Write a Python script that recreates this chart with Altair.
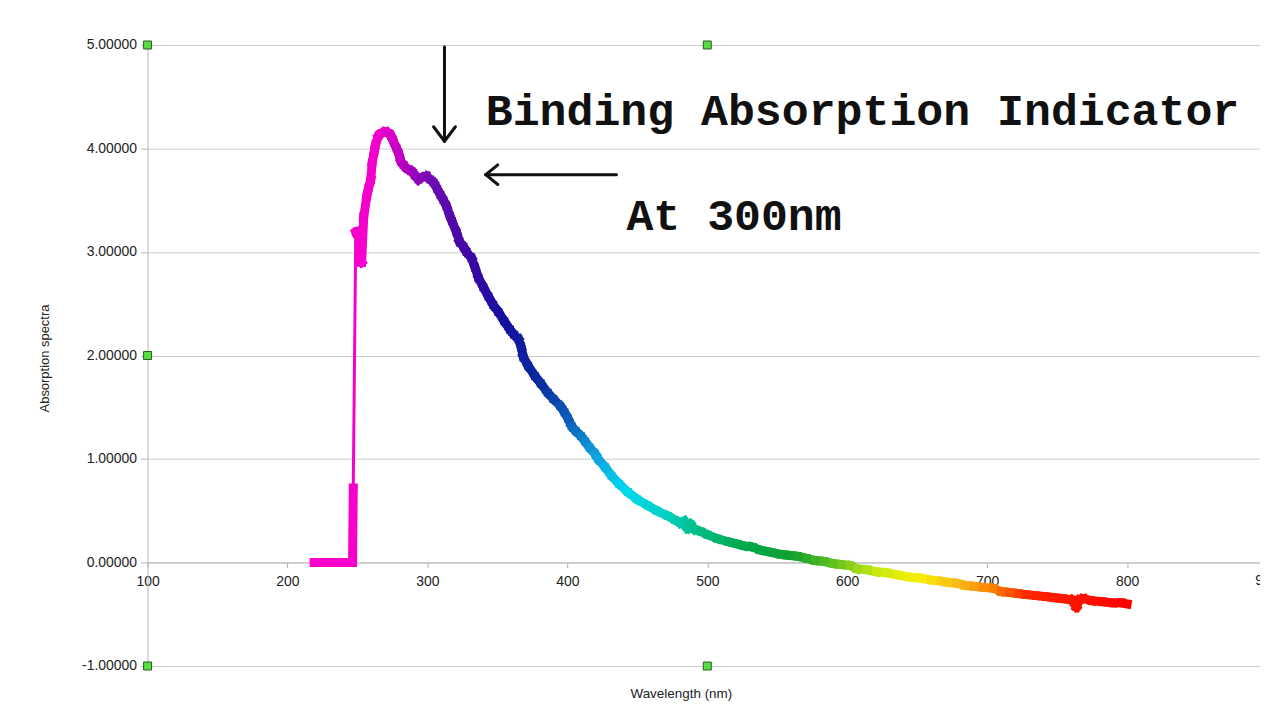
import altair as alt
import pandas as pd

# ---- spectrum ----
wavelength = [219, 228, 237, 246.5, 247, 248.8, 250.5, 251.8, 253, 254.5, 256.7, 258, 259.5, 260.5, 262,
              263, 265, 267.5, 270, 272, 274, 276, 278, 279.5, 281, 283, 286, 288.7, 291, 293.7, 296,
              299.4, 302, 304.4, 307, 309.4, 311.5, 313.7, 316, 317.5, 320.8, 323, 325.8, 328, 331.5,
              334, 336.5, 340, 343.6, 347, 350.7, 355, 359, 362, 365, 367, 368.5, 372, 377, 381, 386,
              390, 395, 398, 400.5, 403, 406, 409.8, 412.7, 416, 419.8, 422, 427, 431.5, 437, 443.3,
              450, 457.5, 464, 471.8, 477, 481, 483.5, 486, 488, 491, 495.3, 500, 507.4, 515, 521,
              526.6, 532, 538, 545, 552, 558, 564.4, 571, 577, 583.4, 590, 596, 602, 607, 614, 621,
              628.5, 636, 644, 652, 660, 667, 671, 678, 684, 690.5, 697, 704.5, 710, 716, 722, 728,
              735, 742, 748, 754.5, 760, 763.8, 766, 768.8, 775, 783, 790, 796, 800]
absorbance = [0.00, 0.00, 0.00, 0.00, 0.72, 3.19, 3.20, 2.92, 2.90, 3.34, 3.54, 3.62, 3.70, 3.86, 3.97,
              4.04, 4.12, 4.15, 4.16, 4.15, 4.12, 4.06, 4.00, 3.95, 3.88, 3.84, 3.80, 3.78, 3.74, 3.70, 3.72,
              3.73, 3.70, 3.67, 3.61, 3.55, 3.50, 3.44, 3.35, 3.30, 3.19, 3.10, 3.05, 3.00, 2.94,
              2.85, 2.75, 2.66, 2.57, 2.49, 2.42, 2.33, 2.25, 2.20, 2.16, 2.08, 1.99, 1.90, 1.80, 1.73, 1.64,
              1.58, 1.51, 1.45, 1.39, 1.32, 1.27, 1.22, 1.17, 1.11, 1.05, 1.00, 0.92, 0.84, 0.76, 0.68,
              0.61, 0.55, 0.50, 0.45, 0.41, 0.38, 0.40, 0.33, 0.37, 0.32, 0.30, 0.27, 0.23, 0.20, 0.18,
              0.16, 0.15, 0.12, 0.10, 0.08, 0.07, 0.06, 0.04, 0.02, 0.01, -0.01, -0.02, -0.03, -0.06, -0.07, -0.09,
              -0.10, -0.12, -0.14, -0.15, -0.17, -0.18, -0.19, -0.20, -0.22, -0.23, -0.24, -0.25, -0.28, -0.29, -0.30, -0.31,
              -0.32, -0.33, -0.34, -0.35, -0.36, -0.43, -0.36, -0.35, -0.37, -0.38, -0.39, -0.39, -0.40]

# colour of the trace along the wavelength
color_stops = [219, 268, 285, 305, 330, 355, 380, 400, 420, 440, 470, 500, 530, 560, 590, 620, 650, 680, 705, 730, 800]
color_values = ["#ff00cc", "#f000cc", "#b000c0", "#6a0cb0", "#3c08a4", "#1410a0", "#0a2c9c", "#0c5ab8",
                "#10a0dc", "#00d8f0", "#00d0c0", "#00b878", "#00a848", "#10a030", "#60c020", "#c8e810",
                "#f8f000", "#f8b818", "#ff7c00", "#ff2400", "#ff0000"]

x_ticks = [100, 200, 300, 400, 500, 600, 700, 800]
x_edge_label = ["900"]
x_edge_value = [900]
y_ticks = [-1, 0, 1, 2, 3, 4, 5]

# annotations
label_text = ["Binding Absorption Indicator", "At 300nm"]
label_x = [341.7, 442.2]
label_y = [4.228, 3.217]

arrow_x = [312.2, 304.4, 320.0, 341.7, 350.3, 350.3]
arrow_y = [4.98, 4.21, 4.21, 3.747, 3.842, 3.652]
arrow_x2 = [312.2, 312.2, 312.2, 435.1, 341.7, 341.7]
arrow_y2 = [4.07, 4.07, 4.07, 3.747, 3.747, 3.747]

handle_x = [100, 500, 900, 100, 900, 100, 500, 900]
handle_y = [5, 5, 5, 2, 2, -1, -1, -1]

# ---- tables ----
pts = pd.DataFrame({"wl": wavelength, "ab": absorbance})
seg = pts.assign(wl2=pts["wl"].shift(-1), ab2=pts["ab"].shift(-1)).dropna()
labels = pd.DataFrame({"t": label_text, "x": label_x, "y": label_y})
arrows = pd.DataFrame({"x": arrow_x, "y": arrow_y, "x2": arrow_x2, "y2": arrow_y2})
handles = pd.DataFrame({"x": handle_x, "y": handle_y})
edge = pd.DataFrame({"t": x_edge_label, "x": x_edge_value, "y": [0] * len(x_edge_value)})

W, H = 1116, 623
xs = alt.Scale(domain=[100, 895], nice=False, zero=False)
ys = alt.Scale(domain=[-1, 5], nice=False, zero=False)
cs = alt.Scale(domain=color_stops, range=color_values, interpolate="rgb")

FONT = "Liberation Sans"
TXT = "#222222"

x_axis = alt.Axis(values=x_ticks, grid=False, offset=-H / 6, format="d", labelFlush=False,
                  labelFont=FONT, labelFontSize=14, labelColor=TXT, labelPadding=7,
                  tickSize=5, tickColor="#b0b0b0", domainColor="#b8b8b8",
                  title="Wavelength (nm)", titleFont=FONT, titleFontSize=13.5, titleFontWeight="normal",
                  titleColor=TXT, titleX=535, titleY=131, titleBaseline="middle", titleAlign="center")
y_axis = alt.Axis(values=y_ticks, grid=True, gridColor="#cccccc", labelFlush=False,
                  labelExpr="replace(format(datum.value, '.5f'), '\u2212', '-')",
                  labelFont=FONT, labelFontSize=14, labelColor=TXT, labelPadding=4,
                  tickSize=7, tickColor="#b8b8b8", domainColor="#b8b8b8",
                  title="Absorption spectra", titleFont=FONT, titleFontSize=13, titleFontWeight="normal",
                  titleColor=TXT, titleX=-103, titleY=314, titleAngle=270,
                  titleBaseline="middle", titleAlign="center")


def X(f):
    return alt.X(f, scale=xs, axis=x_axis)


def Y(f):
    return alt.Y(f, scale=ys, axis=y_axis)


line = alt.Chart(seg).mark_rule(strokeCap="square").encode(
    x=X("wl:Q"),
    y=Y("ab:Q"),
    x2="wl2:Q",
    y2="ab2:Q",
    color=alt.Color("wl:Q", scale=cs, legend=None),
    strokeWidth=alt.condition("abs(datum.ab2 - datum.ab) > 1", alt.value(3), alt.value(9)),
)

marks = alt.Chart(pts).mark_square(size=64, opacity=1).encode(
    x=X("wl:Q"),
    y=Y("ab:Q"),
    color=alt.Color("wl:Q", scale=cs, legend=None),
)

arrow = alt.Chart(arrows).mark_rule(color="#111111", strokeWidth=3, strokeCap="round").encode(
    x=X("x:Q"),
    y=Y("y:Q"),
    x2="x2:Q",
    y2="y2:Q",
)

text = alt.Chart(labels).mark_text(align="left", baseline="alphabetic", font="Liberation Mono",
                                   fontSize=45, fontWeight="bold", color="#111111").encode(
    x=X("x:Q"),
    y=Y("y:Q"),
    text="t:N",
)

edge_label = alt.Chart(edge).mark_text(align="center", baseline="top", dy=12, font=FONT,
                                       fontSize=14, color=TXT).encode(
    x=X("x:Q"),
    y=Y("y:Q"),
    text="t:N",
)

handle = alt.Chart(handles).mark_square(size=64, filled=True, fill="#55dd44", stroke="#2a5a22",
                                        strokeWidth=1, opacity=1).encode(
    x=X("x:Q"),
    y=Y("y:Q"),
)

chart = alt.layer(line, marks, arrow, text, edge_label, handle).properties(
    width=W, height=H,
    autosize=alt.AutoSizeParams(type="none"),
    padding={"left": 140, "top": 36, "right": 0, "bottom": 38},
    background="white",
).configure_view(stroke=None)

chart.save("out.html", embed_options={"renderer": "svg", "actions": False})
